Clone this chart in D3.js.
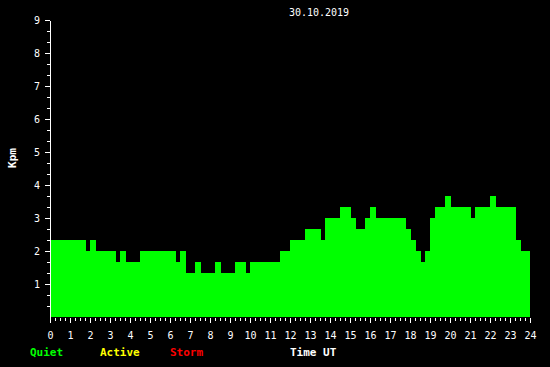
<!DOCTYPE html>
<html>
<head>
<meta charset="utf-8">
<script src="https://cdn.jsdelivr.net/npm/d3@7"></script>
<style>
  html, body { margin: 0; padding: 0; background: #000; }
  svg { display: block; }
  text { font-family: "DejaVu Sans Mono", monospace; fill: #fff; }
</style>
</head>
<body>
<svg id="chart" width="550" height="367"></svg>
<script>
// step start times (hours UT); last entry is the end of the last step
var hours = [0, 1.8, 2.0, 2.3, 3.3, 3.5, 3.8, 4.5, 6.3, 6.5, 6.8, 7.25, 7.55, 8.25, 8.55, 9.25, 9.8, 10.0,
             11.5, 12.0, 12.75, 13.55, 13.75, 14.5, 15.05, 15.3, 15.75, 16.0, 16.3, 17.8, 18.05, 18.3,
             18.55, 18.75, 19.0, 19.25, 19.75, 20.05, 21.05, 21.25, 22.0, 22.3, 23.3, 23.55, 24];
var kpm = [2.33, 2.0, 2.33, 2.0, 1.67, 2.0, 1.67, 2.0, 1.67, 2.0, 1.33, 1.67, 1.33, 1.67, 1.33, 1.67, 1.33,
           1.67, 2.0, 2.33, 2.67, 2.33, 3.0, 3.33, 3.0, 2.67, 3.0, 3.33, 3.0, 2.67, 2.33, 2.0, 1.67,
           2.0, 3.0, 3.33, 3.67, 3.33, 3.0, 3.33, 3.67, 3.33, 2.33, 2.0];
var xTicks = d3.range(0, 25);
var yTicks = [1, 2, 3, 4, 5, 6, 7, 8, 9];
var legend = [
  {label: "Quiet", color: "#00ff00", x: 30},
  {label: "Active", color: "#ffff00", x: 100},
  {label: "Storm", color: "#ff0000", x: 170}
];

var svg = d3.select("#chart");
svg.append("rect").attr("width", 550).attr("height", 367).attr("fill", "#000");

var x = d3.scaleLinear().domain([0, 24]).range([50, 530]);
var y = d3.scaleLinear().domain([0, 9]).range([317, 20]);

// bars
svg.append("g").selectAll("rect")
  .data(kpm)
  .enter().append("rect")
    .attr("x", function(d, i) { return x(hours[i]); })
    .attr("width", function(d, i) { return x(hours[i + 1]) - x(hours[i]); })
    .attr("y", function(d) { return y(d); })
    .attr("height", function(d) { return y(0) - y(d); })
    .attr("fill", "#00ff00")
    .attr("shape-rendering", "crispEdges");

// x axis: minor ticks every 15 min, major every hour, no domain line
var xMinor = d3.axisBottom(x).tickValues(d3.range(0, 24.01, 0.25)).tickSize(3).tickFormat("");
var xMajor = d3.axisBottom(x).tickValues(xTicks).tickSize(5).tickPadding(9).tickFormat(d3.format("d"));
[xMinor, xMajor].forEach(function(ax) {
  var g = svg.append("g").attr("transform", "translate(0,318)").call(ax);
  g.select(".domain").remove();
  g.selectAll("line").attr("stroke", "#fff").attr("shape-rendering", "crispEdges");
  g.selectAll("text").attr("fill", "#fff").attr("font-size", 10)
    .attr("font-family", "DejaVu Sans Mono");
});

// y axis: thirds as minor ticks
var yMinorVals = d3.range(1, 27).map(function(i) { return i / 3; })
  .filter(function(v) { return Math.abs(v - Math.round(v)) > 0.01; });
var yMinor = d3.axisLeft(y).tickValues(yMinorVals).tickSize(3).tickSizeOuter(0).tickFormat("");
var yMajor = d3.axisLeft(y).tickValues(yTicks).tickSize(5).tickSizeOuter(0).tickPadding(5).tickFormat(d3.format("d"));
[yMinor, yMajor].forEach(function(ax) {
  var g = svg.append("g").attr("transform", "translate(50,0)").call(ax);
  g.selectAll("line, .domain").attr("stroke", "#fff").attr("shape-rendering", "crispEdges");
  g.selectAll("text").attr("fill", "#fff").attr("font-size", 10)
    .attr("font-family", "DejaVu Sans Mono");
});

// title
svg.append("text").attr("x", 319).attr("y", 16).attr("text-anchor", "middle")
  .attr("font-size", 10).text("30.10.2019");

// y label
svg.append("text").attr("transform", "translate(16,158) rotate(-90)")
  .attr("text-anchor", "middle").attr("font-size", 11).attr("font-weight", "bold").text("Kpm");

// legend + x label
svg.selectAll(".legend").data(legend).enter().append("text")
  .attr("class", "legend")
  .attr("x", function(d) { return d.x; }).attr("y", 356)
  .attr("font-size", 11).attr("font-weight", "bold")
  .style("fill", function(d) { return d.color; })
  .text(function(d) { return d.label; });

svg.append("text").attr("x", 290).attr("y", 356)
  .attr("font-size", 11).attr("font-weight", "bold").text("Time UT");
</script>
</body>
</html>
